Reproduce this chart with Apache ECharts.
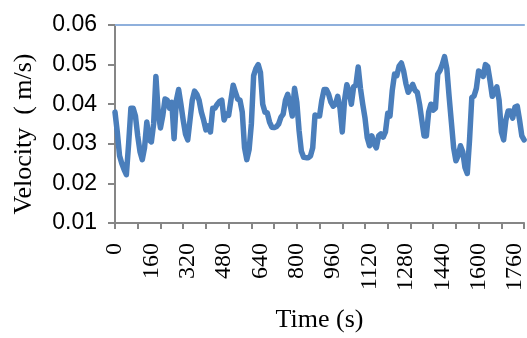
<!DOCTYPE html>
<html>
<head>
<meta charset="utf-8">
<script src="https://cdn.jsdelivr.net/npm/echarts@6/dist/echarts.min.js"></script>
<style>html,body{margin:0;padding:0;background:#fff;}#c{width:527px;height:338px;}</style>
</head>
<body>
<div id="c"></div>
<script>
// Time categories (s), every 10 s
var times = [];
for (var t = 0; t <= 1800; t += 10) times.push(String(t));

// Velocity (m/s)
var velocity = [
0.038,0.033,0.027,0.025,0.0235,0.0222,0.030,0.039,0.039,0.037,
0.032,0.028,0.026,0.029,0.0355,0.031,0.0305,0.035,0.047,0.038,
0.034,0.037,0.0413,0.041,0.039,0.0405,0.0313,0.041,0.0437,0.040,
0.036,0.0325,0.031,0.036,0.041,0.0433,0.0425,0.041,0.038,0.036,
0.0335,0.0345,0.033,0.039,0.039,0.040,0.0407,0.041,0.036,0.0375,
0.0372,0.041,0.0448,0.043,0.0413,0.041,0.038,0.029,0.026,0.0285,
0.035,0.0472,0.049,0.050,0.048,0.040,0.038,0.0378,0.0355,0.0342,
0.0341,0.0343,0.035,0.0367,0.0375,0.041,0.0425,0.040,0.037,0.044,
0.0405,0.0333,0.0281,0.0266,0.0265,0.0265,0.0269,0.029,0.0373,0.037,
0.037,0.041,0.0437,0.0437,0.0425,0.0405,0.0395,0.040,0.042,0.039,
0.033,0.041,0.0449,0.0433,0.040,0.0444,0.0448,0.0494,0.044,0.040,
0.0365,0.0315,0.0295,0.032,0.030,0.029,0.032,0.0325,0.0317,0.033,
0.0377,0.037,0.0435,0.0476,0.0472,0.0496,0.0504,0.0484,0.0452,0.043,
0.044,0.045,0.0435,0.043,0.040,0.036,0.032,0.032,0.038,0.040,
0.0385,0.039,0.0476,0.0485,0.050,0.052,0.049,0.042,0.0355,0.029,
0.0257,0.027,0.0295,0.028,0.024,0.0225,0.031,0.0417,0.0421,0.044,
0.0484,0.048,0.047,0.050,0.0495,0.046,0.042,0.043,0.0444,0.041,
0.033,0.031,0.036,0.0383,0.0383,0.0365,0.0393,0.0395,0.036,0.032,
0.031
];

var yTicks = [0.01, 0.02, 0.03, 0.04, 0.05, 0.06];

var chart = echarts.init(document.getElementById('c'), null, {renderer: 'canvas'});
chart.setOption({
  animation: false,
  backgroundColor: '#ffffff',
  grid: {left: 115, right: -2, top: 25, bottom: 104, containLabel: false},
  xAxis: [{
    type: 'category',
    data: times,
    boundaryGap: false,
    name: 'Time (s)',
    nameLocation: 'middle',
    nameGap: 84,
    nameTextStyle: {fontFamily: 'Liberation Serif', fontSize: 26, color: '#000'},
    axisLine: {lineStyle: {color: '#868686', width: 2}},
    axisTick: {show: true, interval: 9, length: 6, inside: false, lineStyle: {color: '#868686', width: 2}},
    axisLabel: {interval: 15, rotate: 90, margin: 20, fontFamily: 'Liberation Serif', fontSize: 24, color: '#000'},
    splitLine: {show: false}
  }, {
    type: 'category',
    data: times,
    boundaryGap: false,
    position: 'top',
    axisLine: {lineStyle: {color: '#8fb0dc', width: 2}},
    axisTick: {show: false},
    axisLabel: {show: false},
    splitLine: {show: false}
  }],
  yAxis: {
    type: 'value',
    min: yTicks[0],
    max: yTicks[yTicks.length - 1],
    interval: 0.01,
    name: 'Velocity \u00a0( m/s)',
    nameLocation: 'middle',
    nameGap: 78,
    nameTextStyle: {fontFamily: 'Liberation Serif', fontSize: 26, color: '#000', padding: [0, 20, 0, 0]},
    axisLine: {show: true, lineStyle: {color: '#868686', width: 2}},
    axisTick: {show: true, length: 7, lineStyle: {color: '#868686', width: 2}},
    axisLabel: {margin: 18, fontFamily: 'Liberation Sans', fontSize: 23, color: '#000',
      formatter: function (v) { return v.toFixed(2); }},
    splitLine: {show: false}
  },
  series: [{
    type: 'line',
    data: velocity,
    showSymbol: false,
    symbol: 'none',
    smooth: false,
    clip: true,
    lineStyle: {color: '#4a7ebb', width: 5.5, join: 'round', cap: 'round'}
  }]
});
</script>
</body>
</html>
